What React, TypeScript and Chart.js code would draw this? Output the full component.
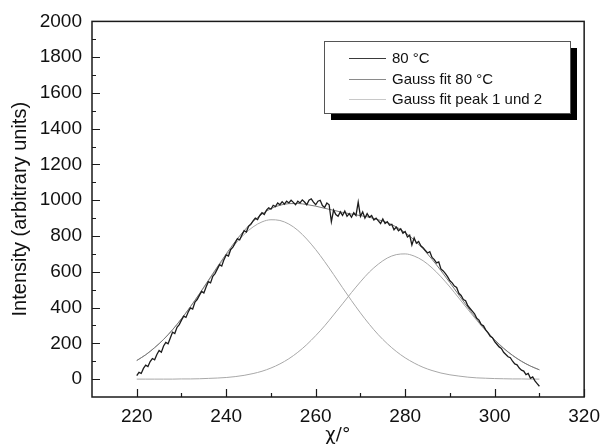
import { useEffect, useRef } from 'react';
import { Chart, registerables } from 'chart.js';

Chart.register(...registerables);

const FONT = "'Liberation Sans', Arial, Helvetica, sans-serif";

// Tick values
const xTickValues = [220, 240, 260, 280, 300, 320];
const xMinorTicks = [230, 250, 270, 290, 310];
const yTickValues = [0, 200, 400, 600, 800, 1000, 1200, 1400, 1600, 1800, 2000];
const yMinorTicks = [100, 300, 500, 700, 900, 1100, 1300, 1500, 1700, 1900];

// Measured data "80 °C" (chi in degrees)
const rawX = [
  220, 220.5, 221, 221.5, 222, 222.5, 223, 223.5, 224, 224.5,
  225, 225.5, 226, 226.5, 227, 227.5, 228, 228.5, 229, 229.5,
  230, 230.5, 231, 231.5, 232, 232.5, 233, 233.5, 234, 234.5,
  235, 235.5, 236, 236.5, 237, 237.5, 238, 238.5, 239, 239.5,
  240, 240.5, 241, 241.5, 242, 242.5, 243, 243.5, 244, 244.5,
  245, 245.5, 246, 246.5, 247, 247.5, 248, 248.5, 249, 249.5,
  250, 250.5, 251, 251.5, 252, 252.5, 253, 253.5, 254, 254.5,
  255, 255.5, 256, 256.5, 257, 257.5, 258, 258.5, 259, 259.5,
  260, 260.5, 261, 261.5, 262, 262.5, 263, 263.5, 264, 264.5,
  265, 265.5, 266, 266.5, 267, 267.5, 268, 268.5, 269, 269.5,
  270, 270.5, 271, 271.5, 272, 272.5, 273, 273.5, 274, 274.5,
  275, 275.5, 276, 276.5, 277, 277.5, 278, 278.5, 279, 279.5,
  280, 280.5, 281, 281.5, 282, 282.5, 283, 283.5, 284, 284.5,
  285, 285.5, 286, 286.5, 287, 287.5, 288, 288.5, 289, 289.5,
  290, 290.5, 291, 291.5, 292, 292.5, 293, 293.5, 294, 294.5,
  295, 295.5, 296, 296.5, 297, 297.5, 298, 298.5, 299, 299.5,
  300, 300.5, 301, 301.5, 302, 302.5, 303, 303.5, 304, 304.5,
  305, 305.5, 306, 306.5, 307, 307.5, 308, 308.5, 309, 309.5,
  310,
];
const rawY = [
  20, 38, 32, 60, 78, 70, 98, 115, 108, 138,
  160, 150, 185, 205, 198, 230, 262, 255, 290, 305,
  330, 352, 345, 375, 398, 392, 430, 445, 468, 490,
  482, 515, 545, 538, 575, 590, 615, 640, 632, 668,
  695, 688, 725, 738, 762, 785, 778, 805, 830, 822,
  855, 865, 885, 900, 892, 915, 930, 920, 945, 958,
  950, 972, 965, 985, 975, 992, 978, 995, 985, 1000,
  988, 975, 995, 985, 1002, 990, 975, 1000, 1008, 990,
  975, 995, 1000, 970, 960, 985, 975, 880, 945, 920,
  910, 935, 915, 940, 910, 925, 905, 930, 915, 990,
  910, 935, 900, 925, 905, 915, 890, 900, 885, 870,
  895, 870, 880, 860, 865, 835, 850, 830, 840, 815,
  825, 795, 805, 750, 790, 760, 770, 745, 735, 720,
  705, 712, 680, 668, 650, 655, 615, 605, 590, 572,
  550, 538, 520, 512, 480, 468, 445, 438, 410, 395,
  380, 365, 340, 330, 305, 298, 275, 260, 240, 232,
  210, 195, 180, 172, 150, 138, 125, 120, 100, 85,
  80, 62, 50, 45, 25, 32, 5, 12, -10, -25,
  -40,
];

// Fit curves
const fitX = [
  220, 222, 224, 226, 228, 230, 232, 234, 236, 238,
  240, 242, 244, 246, 248, 250, 252, 254, 256, 258,
  260, 262, 264, 266, 268, 270, 272, 274, 276, 278,
  280, 282, 284, 286, 288, 290, 292, 294, 296, 298,
  300, 302, 304, 306, 308, 310,
];
const gaussTotal = [
  104, 136, 176, 222, 276, 338, 405, 477, 552, 627,
  700, 769, 830, 882, 923, 953, 972, 981, 982, 976,
  967, 955, 944, 932, 923, 914, 905, 891, 875, 851,
  819, 778, 728, 670, 606, 539, 470, 401, 335, 275,
  220, 173, 133, 100, 73, 52,
];
const gaussPeak1 = [
  104, 136, 176, 222, 276, 337, 404, 475, 548, 621,
  691, 755, 809, 851, 879, 891, 887, 867, 832, 783,
  724, 657, 585, 511, 439, 370, 306, 248, 198, 155,
  119, 90, 66, 48, 34, 24, 17, 11, 7, 5,
  3, 2, 1, 1, 0, 0,
];
const gaussPeak2 = [
  0, 0, 0, 0, 0, 1, 1, 2, 4, 6,
  9, 14, 21, 31, 44, 62, 85, 114, 150, 193,
  243, 298, 359, 421, 484, 544, 599, 643, 677, 696,
  700, 688, 662, 622, 572, 515, 453, 390, 328, 270,
  217, 171, 132, 99, 73, 52,
];

const seriesLabels = ['80 °C', 'Gauss fit 80 °C', 'Gauss fit peak 1 und 2'];
const seriesColors = ['#1c1c1c', '#7a7a7a', '#a8a8a8'];
const legendSampleColors = ['#3a3a3a', '#8a8a8a', '#c8c8c8'];

const toPoints = (xs: number[], ys: number[]) => xs.map((x, i) => ({ x, y: ys[i] }));

const framePlugin = {
  id: 'frameTicks',
  afterDatasetsDraw(chart: any) {
    const { ctx, chartArea, scales } = chart;
    const { left, right, top, bottom } = chartArea;
    ctx.save();
    ctx.strokeStyle = '#1a1a1a';
    ctx.lineWidth = 1.5;
    ctx.strokeRect(left, top, right - left, bottom - top);
    ctx.lineWidth = 1.2;
    ctx.beginPath();
    for (const v of xTickValues) {
      const px = Math.round(scales.x.getPixelForValue(v)) + 0.5;
      ctx.moveTo(px, bottom);
      ctx.lineTo(px, bottom - 8);
    }
    for (const v of xMinorTicks) {
      const px = Math.round(scales.x.getPixelForValue(v)) + 0.5;
      ctx.moveTo(px, bottom);
      ctx.lineTo(px, bottom - 4);
    }
    for (const v of yTickValues) {
      const py = Math.round(scales.y.getPixelForValue(v)) + 0.5;
      ctx.moveTo(left, py);
      ctx.lineTo(left + 8, py);
    }
    for (const v of yMinorTicks) {
      const py = Math.round(scales.y.getPixelForValue(v)) + 0.5;
      ctx.moveTo(left, py);
      ctx.lineTo(left + 4, py);
    }
    ctx.stroke();
    ctx.restore();
  },
};

const legendPlugin = {
  id: 'boxLegend',
  afterDraw(chart: any) {
    const { ctx } = chart;
    const bx = 324, by = 41, bw = 246, bh = 72, sh = 7;
    ctx.save();
    ctx.fillStyle = '#000';
    ctx.fillRect(bx + sh, by + sh, bw, bh);
    ctx.fillStyle = '#fff';
    ctx.fillRect(bx, by, bw, bh);
    ctx.strokeStyle = '#555';
    ctx.lineWidth = 1;
    ctx.strokeRect(bx + 0.5, by + 0.5, bw, bh);
    ctx.font = `15px ${FONT}`;
    ctx.textBaseline = 'middle';
    ctx.textAlign = 'left';
    const rows = [58, 79, 99];
    seriesLabels.forEach((label, i) => {
      ctx.strokeStyle = legendSampleColors[i];
      ctx.lineWidth = 1;
      ctx.beginPath();
      ctx.moveTo(349, rows[i] + 0.5);
      ctx.lineTo(386, rows[i] + 0.5);
      ctx.stroke();
      ctx.fillStyle = '#111';
      ctx.fillText(label, 392, rows[i] + 1);
    });
    ctx.restore();
  },
};

export default function App() {
  const ref = useRef<HTMLCanvasElement>(null);
  useEffect(() => {
    document.body.style.margin = '0';
    const canvas = ref.current;
    if (!canvas) return;
    const chart = new Chart(canvas, {
      type: 'line',
      data: {
        datasets: [
          {
            label: seriesLabels[0],
            data: toPoints(rawX, rawY),
            borderColor: seriesColors[0],
            borderWidth: 1.3,
            pointRadius: 0,
            tension: 0,
            fill: false,
          },
          {
            label: seriesLabels[1],
            data: toPoints(fitX, gaussTotal),
            borderColor: seriesColors[1],
            borderWidth: 1,
            pointRadius: 0,
            cubicInterpolationMode: 'monotone',
            fill: false,
          },
          {
            label: seriesLabels[2],
            data: toPoints(fitX, gaussPeak1),
            borderColor: seriesColors[2],
            borderWidth: 1,
            pointRadius: 0,
            cubicInterpolationMode: 'monotone',
            fill: false,
          },
          {
            label: seriesLabels[2] + ' (2)',
            data: toPoints(fitX, gaussPeak2),
            borderColor: seriesColors[2],
            borderWidth: 1,
            pointRadius: 0,
            cubicInterpolationMode: 'monotone',
            fill: false,
          },
        ],
      },
      options: {
        animation: false,
        responsive: false,
        layout: { padding: { top: 20, right: 16, left: 0, bottom: 0 } },
        plugins: {
          legend: { display: false },
          tooltip: { enabled: false },
        },
        scales: {
          x: {
            type: 'linear',
            min: 210,
            max: 320,
            grid: { display: false, drawTicks: false },
            border: { display: false },
            afterBuildTicks: (s: any) => {
              s.ticks = xTickValues.map((v) => ({ value: v }));
            },
            afterFit: (s: any) => {
              s.height = 51;
            },
            ticks: {
              font: { family: FONT, size: 19 },
              color: '#111',
              padding: 8,
              maxRotation: 0,
              autoSkip: false,
              callback: (v: any) => String(v),
            },
            title: {
              display: true,
              text: 'χ/°',
              font: { family: "'DejaVu Sans', " + FONT, size: 18 },
              color: '#111',
              padding: { top: 0, bottom: 2 },
            },
          },
          y: {
            type: 'linear',
            min: -100,
            max: 2000,
            grid: { display: false, drawTicks: false },
            border: { display: false },
            afterBuildTicks: (s: any) => {
              s.ticks = yTickValues.map((v) => ({ value: v }));
            },
            afterFit: (s: any) => {
              s.width = 92;
            },
            ticks: {
              font: { family: FONT, size: 19 },
              color: '#111',
              padding: 10,
              autoSkip: false,
              callback: (v: any) => String(v),
            },
            title: {
              display: true,
              text: 'Intensity (arbitrary units)',
              font: { family: FONT, size: 20 },
              color: '#111',
              padding: { top: 8, bottom: 0 },
            },
          },
        },
      },
      plugins: [framePlugin, legendPlugin],
    } as any);
    return () => chart.destroy();
  }, []);
  return (
    <div style={{ width: 608, height: 448 }}>
      <canvas ref={ref} width={608} height={448} style={{ display: 'block' }} />
    </div>
  );
}
